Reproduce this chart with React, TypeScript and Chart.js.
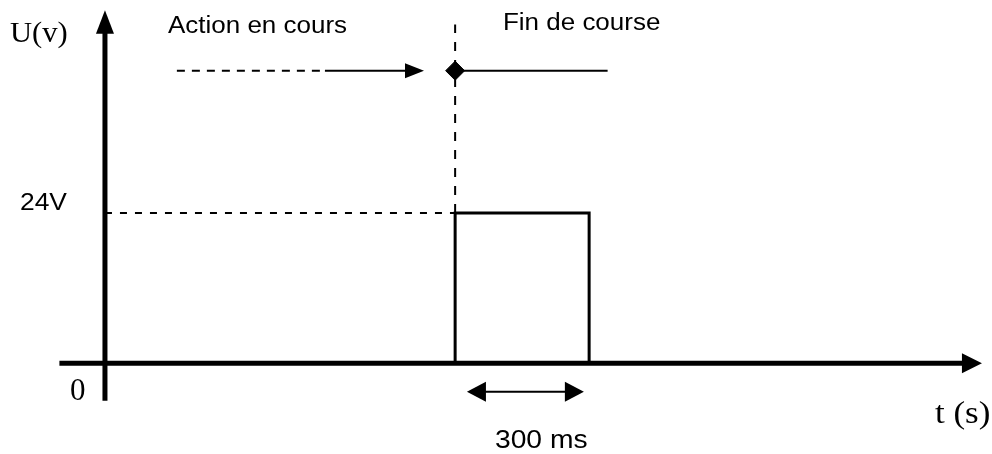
import { useEffect, useRef } from 'react';
import { Chart, registerables } from 'chart.js';

Chart.register(...registerables);

// Time axis in ms, voltage axis in V
const tRange = [-235, 1986];
const uRange = [-14.48, 58.01];

// Axes (shaft ends; arrow heads are added beyond the last point)
const tAxisT = [-102, 1921];
const uAxisU = [-5.97, 52.79];

// Output pulse: 24 V during 300 ms
const pulseT = [784, 784, 1084, 1084];
const pulseU = [0, 24, 24, 0];

// Reference level 24 V and the cursor at the end of the stroke
const refLevelT = [0, 784];
const refLevelU = 24;
const cursorT = 784;
const cursorU = [24, 54.08];

// Sensor signal line (symbolic level above the chart)
const signalLevel = 46.72;
const actionDashedT = [161, 492.5];
const actionSolidT = [492.5, 674];
const finDeCourseT = [784, 1125.4];

// Duration arrow (300 ms)
const durationT = [850.7, 1032];
const durationU = -4.54;

// Tick labels
const uTickLabels = ['0', '24V'];
const tAxisLabel = 't (s)';
const uAxisLabel = 'U(v)';
const phaseLabels = ['Action en cours', 'Fin de course'];
const durationLabel = '300 ms';

const SANS = '"Liberation Sans", Arial, sans-serif';
const SERIF = '"Liberation Serif", "Times New Roman", serif';

const seg = (xs: number[], ys: number[]) => xs.map((x, i) => ({ x, y: ys[i] }));

const annotatePlugin = {
  id: 'annotate',
  afterDatasetsDraw(chart: any) {
    const ctx: CanvasRenderingContext2D = chart.ctx;
    const xs = chart.scales.x;
    const ys = chart.scales.y;
    ctx.save();
    ctx.fillStyle = '#000';
    const head = (p: any, q: any, len: number, half: number) => {
      const dx = p.x - q.x;
      const dy = p.y - q.y;
      const d = Math.hypot(dx, dy) || 1;
      const ux = dx / d;
      const uy = dy / d;
      const bx = p.x - ux * 1;
      const by = p.y - uy * 1;
      ctx.beginPath();
      ctx.moveTo(p.x + ux * len, p.y + uy * len);
      ctx.lineTo(bx - uy * half, by + ux * half);
      ctx.lineTo(bx + uy * half, by - ux * half);
      ctx.closePath();
      ctx.fill();
    };
    chart.data.datasets.forEach((ds: any, i: number) => {
      if (!ds.arrow) return;
      const pts = chart.getDatasetMeta(i).data;
      const n = pts.length;
      const { len, half, both } = ds.arrow;
      head(pts[n - 1], pts[n - 2], len, half);
      if (both) head(pts[0], pts[1], len, half);
    });

    const texts = [
      { text: uAxisLabel, t: -212.7, u: 51.31, font: SERIF, size: 30, sx: 1.02 },
      { text: phaseLabels[0], t: 141.0, u: 52.74, font: SANS, size: 23, sx: 1.13 },
      { text: phaseLabels[1], t: 891.0, u: 53.22, font: SANS, size: 23, sx: 1.13 },
      { text: uTickLabels[1], t: -190.3, u: 24.48, font: SANS, size: 24, sx: 1.1 },
      { text: uTickLabels[0], t: -78.4, u: -5.86, font: SERIF, size: 31, sx: 1.0 },
      { text: tAxisLabel, t: 1858.2, u: -9.53, font: SERIF, size: 31, sx: 1.13 },
      { text: durationLabel, t: 873.1, u: -13.52, font: SANS, size: 25, sx: 1.13 },
    ];
    ctx.textAlign = 'left';
    ctx.textBaseline = 'alphabetic';
    texts.forEach((tx) => {
      const px = xs.getPixelForValue(tx.t);
      const py = ys.getPixelForValue(tx.u);
      ctx.save();
      ctx.translate(px, py);
      ctx.scale(tx.sx, 1);
      ctx.font = `${tx.size}px ${tx.font}`;
      ctx.fillText(tx.text, 0, 0);
      ctx.restore();
    });
    ctx.restore();
  },
};

export default function App() {
  const ref = useRef<HTMLCanvasElement | null>(null);

  useEffect(() => {
    document.body.style.margin = '0';
    document.body.style.background = '#fff';
    const canvas = ref.current;
    if (!canvas) return;
    const base = {
      type: 'line',
      showLine: true,
      pointRadius: 0,
      pointHoverRadius: 0,
      borderColor: '#000',
      backgroundColor: '#000',
      fill: false,
      tension: 0,
      borderCapStyle: 'butt',
      borderJoinStyle: 'miter',
      clip: false,
    };
    const chart = new Chart(canvas, {
      type: 'line',
      data: {
        datasets: [
          {
            ...base,
            label: 'U axis',
            data: seg([0, 0], uAxisU),
            borderWidth: 5,
            arrow: { len: 22.5, half: 9 },
          },
          {
            ...base,
            label: 't axis',
            data: seg(tAxisT, [0, 0]),
            borderWidth: 5,
            arrow: { len: 19, half: 10 },
          },
          {
            ...base,
            label: 'Pulse',
            data: seg(pulseT, pulseU),
            borderWidth: 3,
          },
          {
            ...base,
            label: '24V ref',
            data: seg(refLevelT, [refLevelU, refLevelU]),
            borderWidth: 2,
            borderDash: [7, 8],
          },
          {
            ...base,
            label: 'Cursor',
            data: seg([cursorT, cursorT], cursorU),
            borderWidth: 2,
            borderDash: [9, 9],
          },
          {
            ...base,
            label: 'Action dashed',
            data: seg(actionDashedT, [signalLevel, signalLevel]),
            borderWidth: 2,
            borderDash: [8, 7],
          },
          {
            ...base,
            label: 'Action solid',
            data: seg(actionSolidT, [signalLevel, signalLevel]),
            borderWidth: 2,
            arrow: { len: 18, half: 7.5 },
          },
          {
            ...base,
            label: 'Fin de course',
            data: seg(finDeCourseT, [signalLevel, signalLevel]),
            borderWidth: 2,
          },
          {
            ...base,
            label: 'Marker',
            data: seg([cursorT], [signalLevel]),
            showLine: false,
            pointStyle: 'rectRot',
            pointRadius: 9.5,
            borderWidth: 1,
          },
          {
            ...base,
            label: 'Duration',
            data: seg(durationT, [durationU, durationU]),
            borderWidth: 2,
            arrow: { len: 18, half: 10, both: true },
          },
        ] as any,
      },
      options: {
        animation: false,
        responsive: false,
        maintainAspectRatio: false,
        devicePixelRatio: 1,
        layout: { padding: 0, autoPadding: false },
        events: [],
        parsing: true,
        scales: {
          x: { type: 'linear', min: tRange[0], max: tRange[1], display: false },
          y: { type: 'linear', min: uRange[0], max: uRange[1], display: false },
        },
        plugins: {
          legend: { display: false },
          tooltip: { enabled: false },
          title: { display: false },
        },
      },
      plugins: [annotatePlugin],
    } as any);
    return () => chart.destroy();
  }, []);

  return (
    <div style={{ width: 992, height: 454, background: '#fff' }}>
      <canvas ref={ref} width={992} height={454} style={{ display: 'block' }} />
    </div>
  );
}
